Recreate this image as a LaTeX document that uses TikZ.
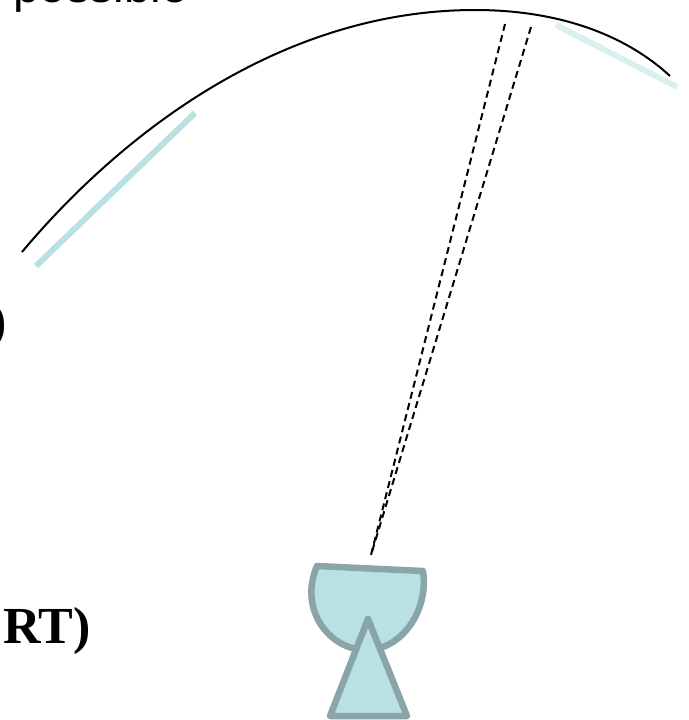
\documentclass[tikz,border=0pt]{standalone}
\usepackage{fontspec}
\setmainfont{Liberation Serif}
\newfontfamily\arialfont{Liberation Sans}
\definecolor{scanfill}{HTML}{B9E0E3}
\definecolor{scanedge}{HTML}{8AA5A8}
\definecolor{palemirror}{HTML}{DCEFF0}
\tikzset{
  scanshape/.style={draw=scanedge,fill=scanfill,line width=6.5pt,line join=round},
  ray/.style={draw=black,line width=2pt,dash pattern=on 7pt off 4.5pt},
  arcline/.style={draw=black,line width=2pt},
  boldlabel/.style={inner sep=0pt,anchor=base east,font=\fontsize{52}{52}\selectfont\bfseries},
  toplabel/.style={inner sep=0pt,anchor=base west,font=\fontsize{47.5}{47.5}\selectfont\arialfont}
}
\begin{document}
\begin{tikzpicture}[x=1pt,y=-1pt]
\useasboundingbox (0,0) rectangle (688,720);
\clip (0,0) rectangle (688,720);
\node[toplabel] (top) at (13,2) {possible};
\node[boldlabel] (lab1) at (7,338) {)};
\node[boldlabel] (lab2) at (91,643) {RT)};
\coordinate (f1) at (505,24);
\coordinate (f2) at (531,27);
\coordinate (src) at (371,555);
\draw[line width=6pt,scanfill] (36,266) -- (195,113);
\draw[line width=6pt,palemirror] (556,25) -- (677,87);
\draw[arcline] (22,252) .. controls (120,135) and (280,10) .. (475,10)
  .. controls (550,10) and (620,30) .. (670,76);
\draw[ray] (f1) -- (src);
\draw[ray] (f2) -- (src);
\draw[scanshape] (317,566) -- (423,571)
  .. controls (429,610) and (402,650) .. (366,650)
  .. controls (330,650) and (298,610) .. (317,566) -- cycle;
\draw[scanshape] (368,619) -- (407,716) -- (330,716) -- cycle;
\end{tikzpicture}
\end{document}
